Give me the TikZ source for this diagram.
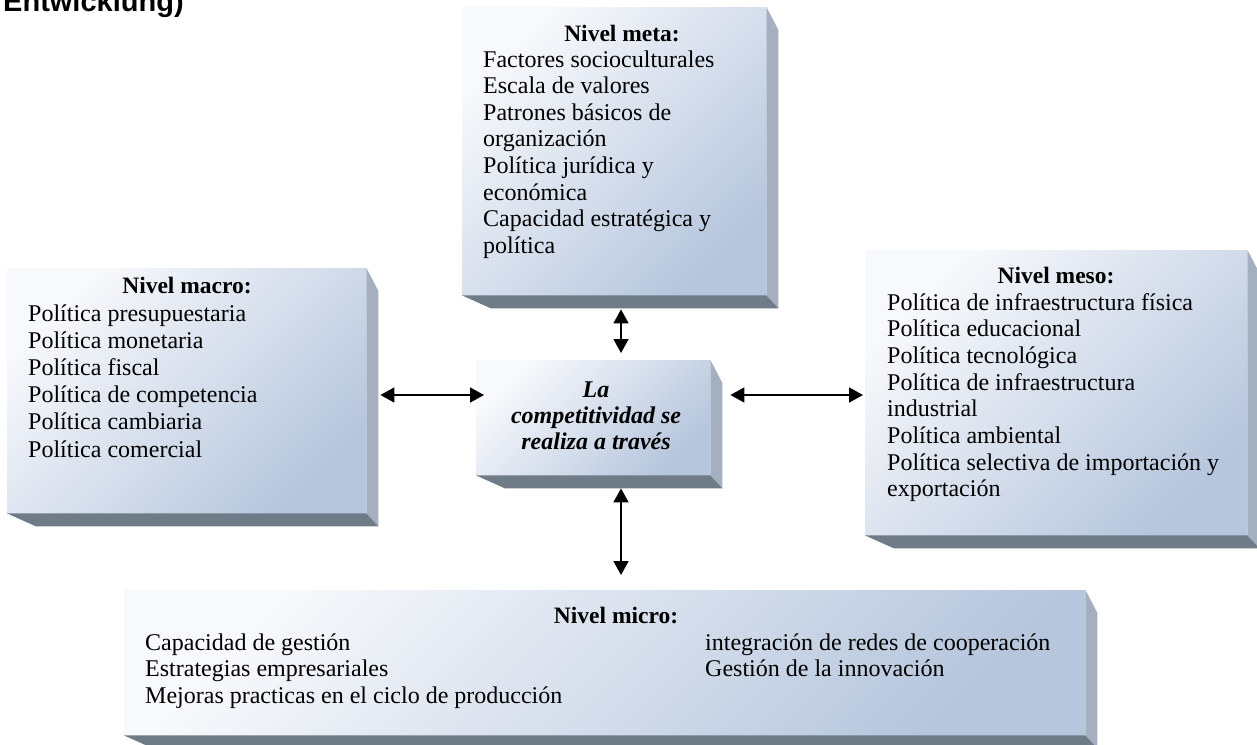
\documentclass[tikz,border=0pt]{standalone}
\usepackage{fontspec}
\setmainfont{Liberation Serif}
\newfontfamily\titlefont{Liberation Sans}
\usetikzlibrary{arrows.meta,calc}
\definecolor{frontA}{RGB}{248,249,252}
\definecolor{frontB}{RGB}{182,198,221}
\definecolor{sideR}{RGB}{164,176,192}
\definecolor{sideB}{RGB}{111,123,134}
\tikzset{
  frontface/.style={rectangle, inner sep=0pt, anchor=north west, top color=frontA, bottom color=frontB, shading angle=45},
  txt/.style={font=\fontsize{24}{27}\selectfont, inner sep=0pt, anchor=base west},
  hdr/.style={font=\fontsize{23.5}{27}\selectfont\bfseries, inner sep=0pt, anchor=base},
  ctr/.style={font=\fontsize{24}{27}\selectfont\bfseries\itshape, inner sep=0pt, anchor=base},
  arr/.style={line width=1.6pt, {Triangle[length=14pt,width=15pt]}-{Triangle[length=14pt,width=15pt]}},
}
\newcommand\bevelbox[1]{%
  \fill[sideR] (#1.north east) -- ++(12,-23) -- ($(#1.south east)+(12,-13)$) -- (#1.south east) -- cycle;
  \fill[sideB] (#1.south west) -- ++(29,-13) -- ($(#1.south east)+(12,-13)$) -- (#1.south east) -- cycle;}
\begin{document}
\begin{tikzpicture}[x=1pt,y=1pt]
\useasboundingbox (0,0) rectangle (1257,-744);
\fill[white] (0,0) rectangle (1257,-744);
% title
\node[anchor=base west, inner sep=0pt, font=\titlefont\bfseries\fontsize{29}{30}\selectfont] (title) at (3,-11) {Entwicklung)};
% boxes
\node[frontface, minimum width=304pt, minimum height=288pt] (meta) at (462,-7) {};
\bevelbox{meta}
\node[frontface, minimum width=359pt, minimum height=245pt] (macro) at (7,-268) {};
\bevelbox{macro}
\node[frontface, minimum width=234pt, minimum height=115pt] (cen) at (476,-360) {};
\bevelbox{cen}
\node[frontface, minimum width=382pt, minimum height=285pt] (meso) at (865,-250) {};
\bevelbox{meso}
\node[frontface, minimum width=961pt, minimum height=145pt] (micro) at (124,-590) {};
\bevelbox{micro}
% meta text
\node[hdr] (metaH) at (622,-41) {Nivel meta:};
\foreach \t [count=\i from 0] in {Factores socioculturales, Escala de valores, Patrones básicos de, organización, Política jurídica y, económica, Capacidad estratégica y, política}
  \node[txt] (metaL\i) at (483,{-67-26.6*\i}) {\t};
% macro text
\node[hdr] (macroH) at (187,-293) {Nivel macro:};
\foreach \t [count=\i from 0] in {Política presupuestaria, Política monetaria, Política fiscal, Política de competencia, Política cambiaria, Política comercial}
  \node[txt] (macroL\i) at (28,{-321-27.2*\i}) {\t};
% meso text
\node[hdr] (mesoH) at (1056,-283) {Nivel meso:};
\foreach \t [count=\i from 0] in {Política de infraestructura física, Política educacional, Política tecnológica, Política de infraestructura, industrial, Política ambiental, Política selectiva de importación y, exportación}
  \node[txt] (mesoL\i) at (887,{-310-26.7*\i}) {\t};
% micro text
\node[hdr] (microH) at (616,-623) {Nivel micro:};
\foreach \t [count=\i from 0] in {Capacidad de gestión, Estrategias empresariales, Mejoras practicas en el ciclo de producción}
  \node[txt] (microL\i) at (145,{-650-26.6*\i}) {\t};
\foreach \t [count=\i from 0] in {integración de redes de cooperación, Gestión de la innovación}
  \node[txt] (microR\i) at (705,{-650-26.6*\i}) {\t};
% center text
\node[ctr] (cen1) at (596,-397) {La};
\node[ctr] (cen2) at (596,-423) {competitividad se};
\node[ctr] (cen3) at (596,-449) {realiza a través};
% arrows
\draw[arr] ($(meta.south west)+(159,-14)$) -- ($(cen.north west)+(145,7)$);
\draw[arr] ($(cen.south west)+(145,-13)$) -- ($(micro.north west)+(497,15)$);
\draw[arr] ($(macro.north east)+(14,-127)$) -- ($(cen.north west)+(8,-35)$);
\draw[arr] ($(cen.north east)+(20,-35)$) -- ($(meso.north west)+(-2,-145)$);
\end{tikzpicture}
\end{document}
